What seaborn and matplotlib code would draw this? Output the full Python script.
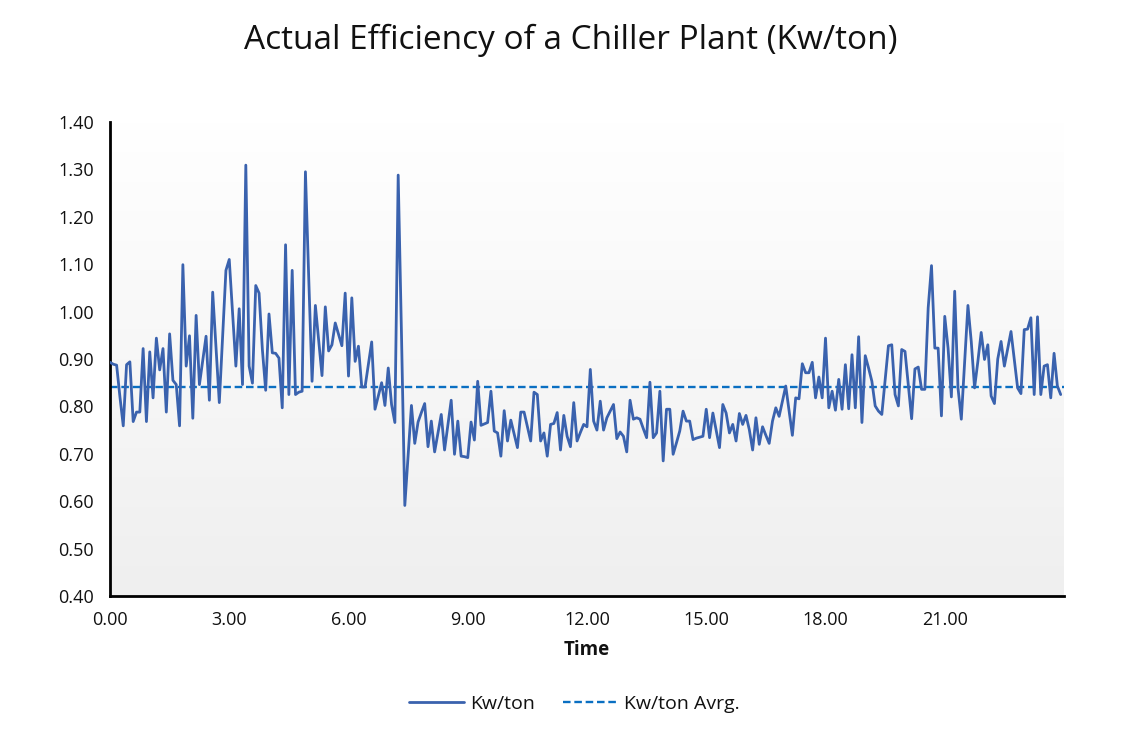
import numpy as np
import pandas as pd
import matplotlib
matplotlib.use("Agg")
import matplotlib.pyplot as plt
import seaborn as sns
from matplotlib.colors import LinearSegmentedColormap

# ---- data (5-minute samples over one day) ----
kw_per_ton = [
    0.893, 0.889, 0.887, 0.820, 0.759, 0.888, 0.894, 0.768, 0.788, 0.788,
    0.922, 0.768, 0.915, 0.818, 0.944, 0.877, 0.922, 0.788, 0.953, 0.855,
    0.846, 0.759, 1.099, 0.885, 0.949, 0.775, 0.992, 0.846, 0.897, 0.948,
    0.813, 1.041, 0.925, 0.808, 0.948, 1.087, 1.110, 0.997, 0.885, 1.006,
    0.846, 1.309, 0.885, 0.849, 1.055, 1.039, 0.920, 0.834, 0.995, 0.913,
    0.912, 0.902, 0.797, 1.141, 0.825, 1.087, 0.825, 0.830, 0.832, 1.295,
    1.070, 0.853, 1.013, 0.939, 0.865, 1.010, 0.917, 0.930, 0.976, 0.952,
    0.928, 1.039, 0.864, 1.029, 0.895, 0.927, 0.841, 0.841, 0.888, 0.936,
    0.794, 0.822, 0.850, 0.802, 0.881, 0.804, 0.766, 1.288, 0.950, 0.591,
    0.697, 0.802, 0.722, 0.767, 0.787, 0.806, 0.715, 0.769, 0.704, 0.744,
    0.783, 0.708, 0.761, 0.813, 0.699, 0.769, 0.695, 0.694, 0.692, 0.767,
    0.729, 0.853, 0.760, 0.763, 0.766, 0.832, 0.748, 0.744, 0.695, 0.791,
    0.727, 0.771, 0.742, 0.713, 0.788, 0.788, 0.757, 0.727, 0.830, 0.825,
    0.727, 0.744, 0.695, 0.762, 0.764, 0.787, 0.708, 0.781, 0.737, 0.715,
    0.808, 0.727, 0.745, 0.762, 0.757, 0.878, 0.769, 0.750, 0.811, 0.750,
    0.776, 0.790, 0.804, 0.732, 0.746, 0.737, 0.704, 0.813, 0.773, 0.776,
    0.773, 0.753, 0.734, 0.851, 0.734, 0.744, 0.832, 0.685, 0.794, 0.794,
    0.699, 0.723, 0.748, 0.790, 0.769, 0.769, 0.730, 0.733, 0.735, 0.737,
    0.794, 0.734, 0.786, 0.750, 0.713, 0.804, 0.786, 0.744, 0.762, 0.727,
    0.785, 0.762, 0.781, 0.751, 0.708, 0.776, 0.720, 0.757, 0.739, 0.722,
    0.769, 0.797, 0.779, 0.811, 0.843, 0.791, 0.739, 0.818, 0.816, 0.890,
    0.871, 0.871, 0.893, 0.818, 0.862, 0.818, 0.944, 0.797, 0.832, 0.792,
    0.857, 0.794, 0.888, 0.795, 0.909, 0.797, 0.947, 0.766, 0.907, 0.881,
    0.853, 0.801, 0.790, 0.783, 0.855, 0.928, 0.930, 0.825, 0.801, 0.920,
    0.916, 0.846, 0.774, 0.879, 0.883, 0.836, 0.836, 1.008, 1.097, 0.923,
    0.923, 0.780, 0.990, 0.923, 0.820, 1.043, 0.839, 0.773, 0.893, 1.013,
    0.937, 0.839, 0.895, 0.956, 0.899, 0.930, 0.822, 0.806, 0.900, 0.937,
    0.885, 0.922, 0.958, 0.899, 0.839, 0.827, 0.962, 0.963, 0.987, 0.825,
    0.989, 0.825, 0.885, 0.888, 0.818, 0.912, 0.843, 0.825,
]
kw_avg = 0.84
sample_minutes = 5
hours = np.arange(len(kw_per_ton)) * sample_minutes / 60.0

x_ticks = [0, 3, 6, 9, 12, 15, 18, 21, 24]
x_tick_labels = ["0.00", "3.00", "6.00", "9.00", "12.00", "15.00", "18.00", "21.00", ""]
y_ticks = [0.40, 0.50, 0.60, 0.70, 0.80, 0.90, 1.00, 1.10, 1.20, 1.30, 1.40]

title = "Actual Efficiency of a Chiller Plant (Kw/ton)"
series_name = "Kw/ton"
avg_name = "Kw/ton Avrg."

df = pd.DataFrame({"Time": hours, series_name: kw_per_ton})

# ---- style ----
sns.set_theme(style="white")
plt.rcParams["font.family"] = ["Open Sans", "DejaVu Sans"]

fig = plt.figure(figsize=(11.42, 7.35), dpi=100)
ax = fig.add_axes([110 / 1142, 1 - 596 / 735, (1064 - 110) / 1142, (596 - 122) / 735])

# gradient background
cmap = LinearSegmentedColormap.from_list("bg", ["#efefef", "#ffffff"])
grad = np.linspace(0, 1, 256).reshape(-1, 1)
ax.imshow(grad, aspect="auto", cmap=cmap, origin="lower",
          extent=[0, 1, 0, 1], transform=ax.transAxes, zorder=0)

line_color = "#3A62AE"
avg_color = "#0A6FC2"

sns.lineplot(data=df, x="Time", y=series_name, ax=ax, color=line_color,
             linewidth=2.0, label=series_name, zorder=3)
ax.axhline(kw_avg, color=avg_color, linewidth=1.7, dashes=(3.2, 1.6),
           label=avg_name, zorder=2)

ax.set_xlim(0, 24)
ax.set_ylim(0.40, 1.40)
ax.set_xticks(x_ticks)
ax.set_xticklabels(x_tick_labels)
ax.set_yticks(y_ticks)
ax.set_yticklabels([f"{v:.2f}" for v in y_ticks])

for side in ["top", "right"]:
    ax.spines[side].set_visible(False)
for side in ["left", "bottom"]:
    ax.spines[side].set_color("black")
    ax.spines[side].set_linewidth(2.0)

ax.tick_params(axis="both", which="major", direction="out", length=4.5,
               width=1.6, color="black", labelsize=13, labelcolor="#111111")
ax.tick_params(axis="y", pad=7)
ax.tick_params(axis="x", pad=6)

ax.set_xlabel("Time", fontsize=13.5, fontweight="bold", labelpad=8, color="#111111")
ax.set_ylabel("")

fig.suptitle(title, x=0.5, y=1 - 40 / 735, va="center", fontsize=24, color="#111111")

handles, labels = ax.get_legend_handles_labels()
ax.get_legend().remove()
fig.legend(handles, labels, loc="center", bbox_to_anchor=(0.503, 1 - 704 / 735),
           ncol=2, frameon=False, fontsize=14, handlelength=2.8,
           handletextpad=0.35, columnspacing=1.4, labelcolor="#111111")

fig.savefig("out.png", dpi=100)
